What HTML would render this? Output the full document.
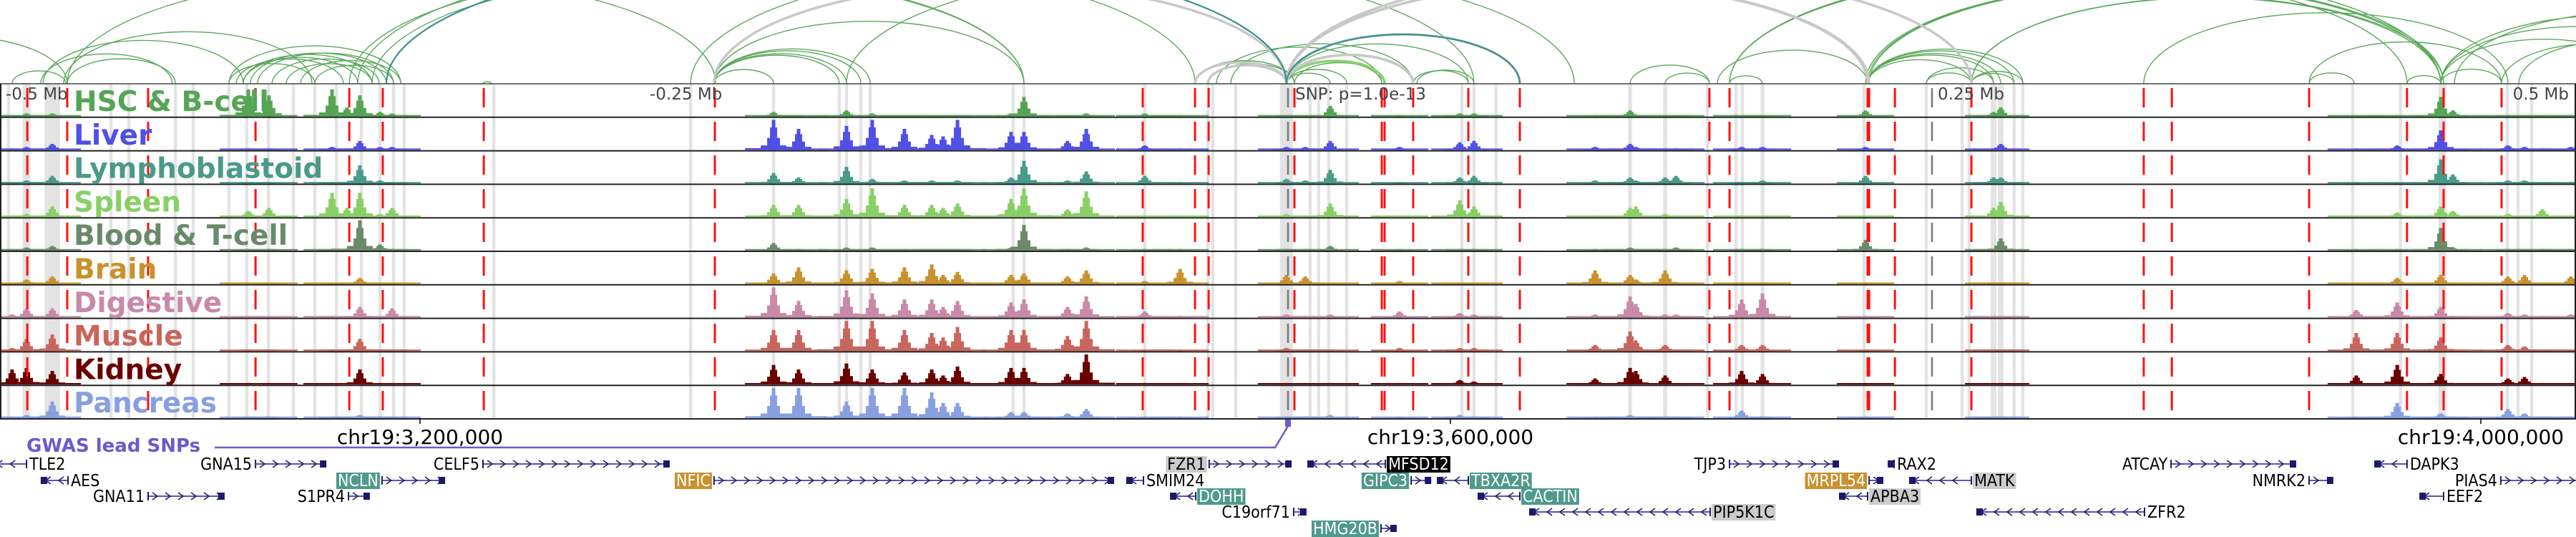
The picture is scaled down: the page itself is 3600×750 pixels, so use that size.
<!DOCTYPE html>
<html><head><meta charset="utf-8"><style>
html,body{margin:0;padding:0;background:#fff;}
svg{display:block;}
text{font-family:"DejaVu Sans","Liberation Sans",sans-serif;}
.gl{font-family:"DejaVu Sans Condensed","DejaVu Sans","Liberation Sans",sans-serif;font-stretch:condensed;}
</style></head><body>
<svg id="chart" width="3600" height="750" viewBox="0 0 3600 750" xmlns="http://www.w3.org/2000/svg">
<g id="bands"></g>
<g id="arcs"></g>
<g id="signals"></g>
<g id="frame"></g>
<g id="vlines"></g>
<g id="labels"></g>
<g id="axis"></g>
<g id="genes"></g>
</svg>
<script>
// ---------- data (positions in kb relative to lead SNP) ----------
const tissues = ["HSC & B-cell","Liver","Lymphoblastoid","Spleen","Blood & T-cell","Brain","Digestive","Muscle","Kidney","Pancreas"];
const tissueColors = ["#55a555","#5050e6","#4a9a8a","#88d066","#6a8a6a","#c8922e","#c88aa8","#c8665e","#6a0000","#88a0e0"];
const peakKb = [-495.3,-489.7,-479.7,-403.6,-395.6,-371.1,-365.3,-360.3,-352.5,-347.8,-199.7,-190,-171.4,-161.4,-148.9,-138.3,-133.9,-128.3,-107.5,-102.5,-85.6,-78.3,-55.6,-41.9,-0.6,6.7,16.4,43.3,66.7,72.2,119.2,132.8,135,146.4,150.6,176.1,184.2,224.2,273.9,276.7,414.7,430.6,447.5,452.2,473.6,480,486.9,498];
const hscVals = [.05,.1,.1,.9,.7,.9,.3,.7,.15,.1,.15,.05,.2,.1,.05,.05,.05,.05,.1,.65,.05,.1,.1,.05,.05,.05,.35,.05,.1,.1,.05,.2,.05,.05,.05,.05,.05,.2,.15,.3,.05,.05,.65,.2,.05,.05,.05,.05];
const liverVals = [.05,.1,.2,.05,.05,.1,.05,.3,.1,.1,1,.7,.8,1,.7,.5,.45,1,.6,.6,.3,.7,.15,.05,.1,.1,.3,.1,.25,.3,.1,.2,.1,.05,.05,.1,.1,.1,.05,.2,.05,.15,.65,.05,.15,.1,.05,.1];
const lymphoVals = [.05,.1,.25,.05,.05,.05,.05,.6,.1,.05,.35,.2,.55,.15,.1,.1,.05,.1,.2,.75,.1,.4,.25,.05,.15,.1,.45,.05,.2,.25,.1,.2,.1,.2,.25,.05,.1,.25,.2,.2,.05,.05,.8,.3,.1,.1,.05,.05];
const spleenVals = [.05,.1,.35,.2,.3,.8,.3,.8,.1,.3,.4,.4,.6,.95,.4,.4,.3,.45,.6,.95,.25,.85,.05,.05,.1,.05,.45,.05,.55,.35,.05,.3,.35,.1,.05,.05,.05,.05,.3,.5,.05,.15,.35,.2,.1,.05,.25,.05];
const bloodVals = [.05,.1,.15,.05,.05,.05,.05,1,.2,.05,.25,.05,.1,.1,.05,.05,.05,.05,.1,.85,.05,.1,.05,.05,.05,.05,.15,.05,.05,.05,.05,.1,.05,.05,.1,.05,.05,.35,.05,.4,.05,.05,.75,.1,.05,.05,.05,.05];
const brainVals = [.05,.15,.25,.05,.05,.05,.05,.2,.05,.05,.35,.55,.45,.5,.55,.65,.3,.4,.3,.35,.25,.45,.1,.5,.3,.25,.05,.1,.05,.05,.45,.3,.15,.45,.05,.05,.05,.05,.05,.05,.05,.2,.3,.05,.25,.3,.05,.25];
const digestiveVals = [.1,.3,.3,.05,.05,.05,.05,.35,.05,.3,1,.55,.9,.8,.6,.6,.35,.55,.5,.6,.35,.7,.2,.05,.1,.05,.1,.2,.15,.1,.1,.7,.45,.1,.1,.6,.8,.05,.05,.05,.25,.5,.35,.05,.15,.1,.05,.1];
const muscleVals = [.1,.4,.55,.05,.05,.05,.05,.4,.05,.05,.7,.7,1,1,.7,.6,.45,.8,.7,.7,.5,1,.05,.05,.1,.05,.05,.1,.1,.1,.2,.65,.35,.2,.05,.2,.2,.05,.05,.05,.6,.6,.45,.05,.2,.15,.05,.05];
const kidneyVals = [.5,.55,.45,.05,.05,.05,.05,.5,.05,.05,.65,.5,.7,.5,.4,.5,.3,.6,.55,.55,.35,1,.05,.05,.05,.05,.05,.05,.15,.1,.2,.55,.45,.3,.05,.45,.35,.05,.05,.05,.3,.65,.35,.05,.2,.25,.05,.05];
const pancreasVals = [.05,.1,.55,.05,.05,.05,.05,.1,.05,.05,1,1,.55,1,1,.85,.5,.5,.2,.2,.15,.3,.05,.05,.05,.05,.1,.05,.1,.05,.05,.1,.05,.05,.05,.25,.05,.05,.05,.05,.05,.5,.15,.05,.3,.15,.05,.05];
const redLineKb = [-489.4,-473.9,-442.5,-400.8,-364.4,-351.4,-312.2,-222.5,-56.4,-36.1,-30.8,2.5,36.4,37.5,48.6,70,90,163.6,171.4,225,225.6,235.6,265.3,332.2,343.1,396.4,434.4,448.6,471.1];
const grayLineKb = [0,250];
const bandKb = [-496.7,-489.7,-479.7,-456.9,-450,-431.9,-425,-411.1,-404.2,-395.8,-386.1,-377.8,-369.4,-359.7,-352.5,-347.2,-343.1,-308.3,-231.9,-199.7,-174.2,-171.4,-165.8,-162.2,-106.7,-102.5,-55.6,-31.1,-29.2,-20.3,-0.6,8.6,11.9,15.8,22.8,67.5,72.2,80.8,132.8,146.4,162.8,173.9,176.4,184.2,223.6,247.8,261.7,264.4,273.9,276.7,281.9,285.3,413.3,431.9,448.1,473.3,477.5,482.8];
const bandWidthKb = [1.2,3,6,1.2,1.2,1.2,1.2,1.2,1.2,1.2,1.2,1.2,1.2,1.2,1.2,1.2,1.2,1.2,1.2,1.2,1.2,1.2,1.2,1.2,1.2,1.2,1.2,1.2,1.2,1.2,5,1.2,1.2,1.2,1.2,1.2,1.2,1.2,1.5,1.5,1.2,1.2,1.2,1.5,1.2,1.2,1.2,1.2,2.2,2.2,1.2,1.2,1.2,1.2,3,1.2,1.2,1.2];
const arcStart = [-560,-484.2,-475.3,-495.3,-473.9,-483.3,-473.9,-411.1,-408.3,-405.6,-405.6,-402.8,-400,-394.4,-388.9,-383.3,-411.1,-377.8,-364.4,-361.1,-312.5,-350,-222.8,-231.9,-222.8,-222.8,-222.8,-222.8,-222.8,-222.8,-171.4,-355.6,-36.1,-31.1,-0.6,-0.6,-0.6,-0.6,-0.6,-0.6,-0.6,-0.6,-36.1,-30.8,-27.8,-22.2,-0.6,-0.6,-0.6,-0.6,2.5,48.6,50,132.8,146.4,171.4,166.7,171.4,225,225,225,225,225,225,225.6,224.2,247.8,247.8,265.3,265.3,265.3,265.3,332.2,396.4,396.4,434.4,447.5,447.5,447.5,447.5,452.8,471.1,477.8,171.4];
const arcEnd = [-473.9,-433.1,-378.9,-474.4,-431.9,-405.6,-222.2,-377.8,-366.7,-361.1,-355.6,-350,-347.2,-352.8,-355.6,-344.4,-344.4,-347.2,-102.5,-36.1,-309.2,-0.6,-0.6,72.2,-199.7,-174.2,-171.4,-165.8,-162.2,-102.5,111.1,-102.5,-0.6,-0.6,48.6,90,225,225.6,265.3,90,37.5,48.6,2.5,2.5,36.4,48.6,16.4,22.8,36.4,70,37.5,70,72.2,163.6,163.6,184.2,225,447.5,265.3,273.9,276.7,281.9,285.3,447.5,447.5,448.6,265.3,273.9,447.5,448.6,285.3,281.9,473.6,413.9,471.1,447.5,471.1,527.8,555.6,583.3,597.2,541.7,555.6,434.4];
const arcKind = [0,0,0,0,0,0,0,0,0,0,0,0,0,0,0,0,0,0,0,0,0,2,1,0,0,0,0,0,0,0,0,0,1,1,1,1,1,1,1,2,3,3,0,0,0,0,0,0,0,0,0,0,0,0,0,0,0,0,0,0,0,0,0,0,0,0,0,0,0,0,0,0,0,0,0,0,0,0,0,0,0,0,0,0];
const geneNames = ["TLE2","AES","GNA11","GNA15","S1PR4","NCLN","CELF5","NFIC","SMIM24","DOHH","FZR1","C19orf71","MFSD12","HMG20B","GIPC3","TBXA2R","CACTIN","PIP5K1C","TJP3","APBA3","MRPL54","RAX2","MATK","ZFR2","ATCAY","NMRK2","DAPK3","EEF2","PIAS4"];
const geneStartKb = [-503,-484.2,-442.5,-400.8,-364.7,-351.7,-312.5,-222.8,-62.8,-45.8,-30.6,2.2,7.5,36.1,47.8,57.8,73.6,93.6,171.4,213.9,225.6,232.8,241.1,267.2,342.8,396.4,421.7,439.2,470.8];
const geneEndKb = [-489.7,-473.6,-412.8,-373.3,-356.4,-327.2,-240,-67.5,-56.1,-35.8,1.4,7.2,37.8,42.2,55.6,70,90,163.9,213.9,225,231.1,235.3,265.3,332.5,391.4,405.8,434.4,448.6,505];
const geneStrand = ["-","-","+","+","+","+","+","+","-","-","+","+","-","+","+","-","-","-","+","-","+","-","-","-","+","+","-","-","+"];
const geneRow = [0,1,2,0,2,1,0,1,1,2,0,3,0,4,1,1,2,3,0,2,1,0,1,3,0,1,0,2,1];
const geneStyle = ["","","","","","teal","","gold","","teal","gray","","black","teal","teal","teal","teal","gray","","gray","gold","","gray","","","","","",""];
const axisTicksBp = [3200000,3600000,4000000];
const relTickKb = [-500,-250,0,250,500];
const relTickText = ["-0.5 Mb","-0.25 Mb","SNP: p=1.0e-13","0.25 Mb","0.5 Mb"];

// ---------- scales ----------
const SNP_BP = 3536944;
const TOP = 117, TH = 46.8, MAXH = 42;
function x(kb){ return 1800 + kb*3.6; }
function xbp(bp){ return x((bp - SNP_BP)/1000); }
function trackBottom(i){ return TOP + (i+1)*TH - 1.2; }
function yv(v){ return v*MAXH; }
const NS = "http://www.w3.org/2000/svg";
function mk(tag, parent, attrs){ const e=document.createElementNS(NS,tag); for(const k in attrs) e.setAttribute(k,attrs[k]); parent.appendChild(e); return e; }
const $ = id => document.getElementById(id);

// bands
bandKb.forEach((b,i)=>{
  const w = Math.max(3, bandWidthKb[i]*3.6);
  const r = mk("rect", $("bands"), {x:x(b)-w/2, y:TOP, width:w, height:TH*10, fill:"#e3e3e3"});
  
  
});

// arcs
const arcColor = ["#5ba85b","#c8c8c8","#3a9090","#8cd070"];
const arcWidth = [1.4,3.5,2.2,3.5];
const order = [0,3,1,2];
order.forEach(kind=>{
  arcStart.forEach((a,i)=>{
    if(arcKind[i]!==kind) return;
    const x1=x(a), x2=x(arcEnd[i]); const span=x2-x1; const rx=span/2;
    const ry = span*0.25/(1+span/1800);
    const p = mk("path", $("arcs"), {d:`M${x1},${TOP} A${rx},${ry} 0 0 1 ${x2},${TOP}`, fill:"none", stroke:arcColor[kind], "stroke-width":arcWidth[kind]});
    
    
  });
});

// signals
const seriesVals = [hscVals,liverVals,lymphoVals,spleenVals,bloodVals,brainVals,digestiveVals,muscleVals,kidneyVals,pancreasVals];
seriesVals.forEach((vals,t)=>{
  const g = mk("g", $("signals"), {fill:tissueColors[t]});
  
  
  const yb = trackBottom(t);
  vals.forEach((v,i)=>{
    const cx = x(peakKb[i]);
    const h = yv(v);
    mk("rect", g, {x:cx-40, y:yb-Math.max(2,h*0.06), width:80, height:Math.max(2,h*0.06)});
    mk("rect", g, {x:cx-18, y:yb-h*0.15, width:36, height:h*0.15});
    mk("rect", g, {x:cx-9, y:yb-h*0.4, width:18, height:h*0.4});
    mk("rect", g, {x:cx-5, y:yb-h*0.75, width:10, height:h*0.75});
    const b = mk("rect", g, {x:cx-2.5, y:yb-h, width:5, height:h});
    
    
  });
});

// frame
for(let i=0;i<=10;i++){
  const l = mk("line", $("frame"), {x1:0, x2:3600, y1:TOP+i*TH, y2:TOP+i*TH, stroke:i===0?"#444":"#222", "stroke-width":i===0?1.5:2});
  
  
}
mk("line", $("frame"), {x1:1, x2:1, y1:TOP, y2:TOP+10*TH, stroke:"#222","stroke-width":2});
mk("line", $("frame"), {x1:3599, x2:3599, y1:TOP, y2:TOP+10*TH, stroke:"#222","stroke-width":2});

// vertical lines
redLineKb.forEach(k=>{
  const l = mk("line", $("vlines"), {x1:x(k), x2:x(k), y1:TOP, y2:TOP+10*TH, stroke:"#ff1010", "stroke-width":3, "stroke-dasharray":"27 20", "stroke-dashoffset":"-6"});
  
  
});
grayLineKb.forEach(k=>{
  const l = mk("line", $("vlines"), {x1:x(k), x2:x(k), y1:TOP, y2:TOP+10*TH, stroke:"#777", "stroke-width":2.5, "stroke-dasharray":"27 20", "stroke-dashoffset":"-6"});
  
  
});

// relative tick labels
relTickKb.forEach((k,i)=>{
  let tx = x(k)+8; let anchor="start";
  if(i===relTickKb.length-1){ tx = 3590; anchor="end"; }
  if(i===2) tx = x(k)+10;
  const t = mk("text", $("labels"), {x:tx, y:139, "font-size":23, fill:"#444", "text-anchor":anchor});
  t.textContent = relTickText[i];
  
  
});
// track labels
tissues.forEach((n,i)=>{
  const t = mk("text", $("labels"), {x:103, y:TOP+i*TH+38, "font-size":39, "font-weight":"bold", fill:tissueColors[i]});
  t.textContent = n;
  
  
});

// axis
axisTicksBp.forEach(bp=>{
  const px = xbp(bp);
  mk("line", $("axis"), {x1:px,x2:px,y1:585,y2:592,stroke:"#000","stroke-width":1.5});
  const t = mk("text", $("axis"), {x:px, y:620, "font-size":28, "text-anchor":"middle", fill:"#000"});
  t.textContent = "chr19:" + bp.toLocaleString("en-US");
  
  
});
const gw = mk("text", $("axis"), {x:37, y:631, "font-size":26, "font-weight":"bold", fill:"#6a5acd"});
gw.textContent = "GWAS lead SNPs";


const gwl = mk("polyline", $("axis"), {points:`300,625 ${x(-5)},625 ${x(0)},595`, fill:"none", stroke:"#6a5acd","stroke-width":2.5});


const gwr = mk("rect", $("axis"), {x:x(0)-4, y:586, width:8, height:10, fill:"#6a5acd"});



// genes
const rowY = [648,671,693,715,738];
const boxFill = {teal:"#4f9a8a", gold:"#c8922e", gray:"#cccccc", black:"#000"};
const boxText = {teal:"#fff", gold:"#fff", gray:"#000", black:"#fff"};
geneNames.forEach((name,i)=>{
  const g = mk("g", $("genes"), {});
  
  
  const x1=x(geneStartKb[i]), x2=x(geneEndKb[i]), y=rowY[geneRow[i]];
  mk("line", g, {x1, x2, y1:y, y2:y, stroke:"#5858a8", "stroke-width":2});
  const dir = geneStrand[i]==="+"?1:-1;
  for(let cx=x1+10; cx<x2-6; cx+=18){
    mk("polyline", g, {points:`${cx-4*dir},${y-5} ${cx+3*dir},${y} ${cx-4*dir},${y+5}`, fill:"none", stroke:"#1a1a6a","stroke-width":1.5});
  }
  const endX = dir>0 ? x2 : x1;
  mk("rect", g, {x: dir>0? endX-9 : endX, y:y-5, width:9, height:10, fill:"#1a1a6a"});
  mk("line", g, {x1:dir>0?x1:x2, x2:dir>0?x1:x2, y1:y-6, y2:y+6, stroke:"#1a1a6a","stroke-width":2});
  const t = mk("text", g, {y:y+8, "font-size":23, class:"gl"});
  t.textContent = name;
  const st = geneStyle[i];
  t.setAttribute("fill", st? boxText[st] : "#000");
  const w = t.getComputedTextLength();
  const lx = dir>0 ? x1-3-w-2 : x2+4;
  t.setAttribute("x", lx);
  if(st){
    const r = document.createElementNS(NS,"rect");
    r.setAttribute("x", lx-2); r.setAttribute("y", y-11); r.setAttribute("width", w+4); r.setAttribute("height", 23); r.setAttribute("fill", boxFill[st]);
    g.insertBefore(r, t);
  }
});
</script>
</body></html>
